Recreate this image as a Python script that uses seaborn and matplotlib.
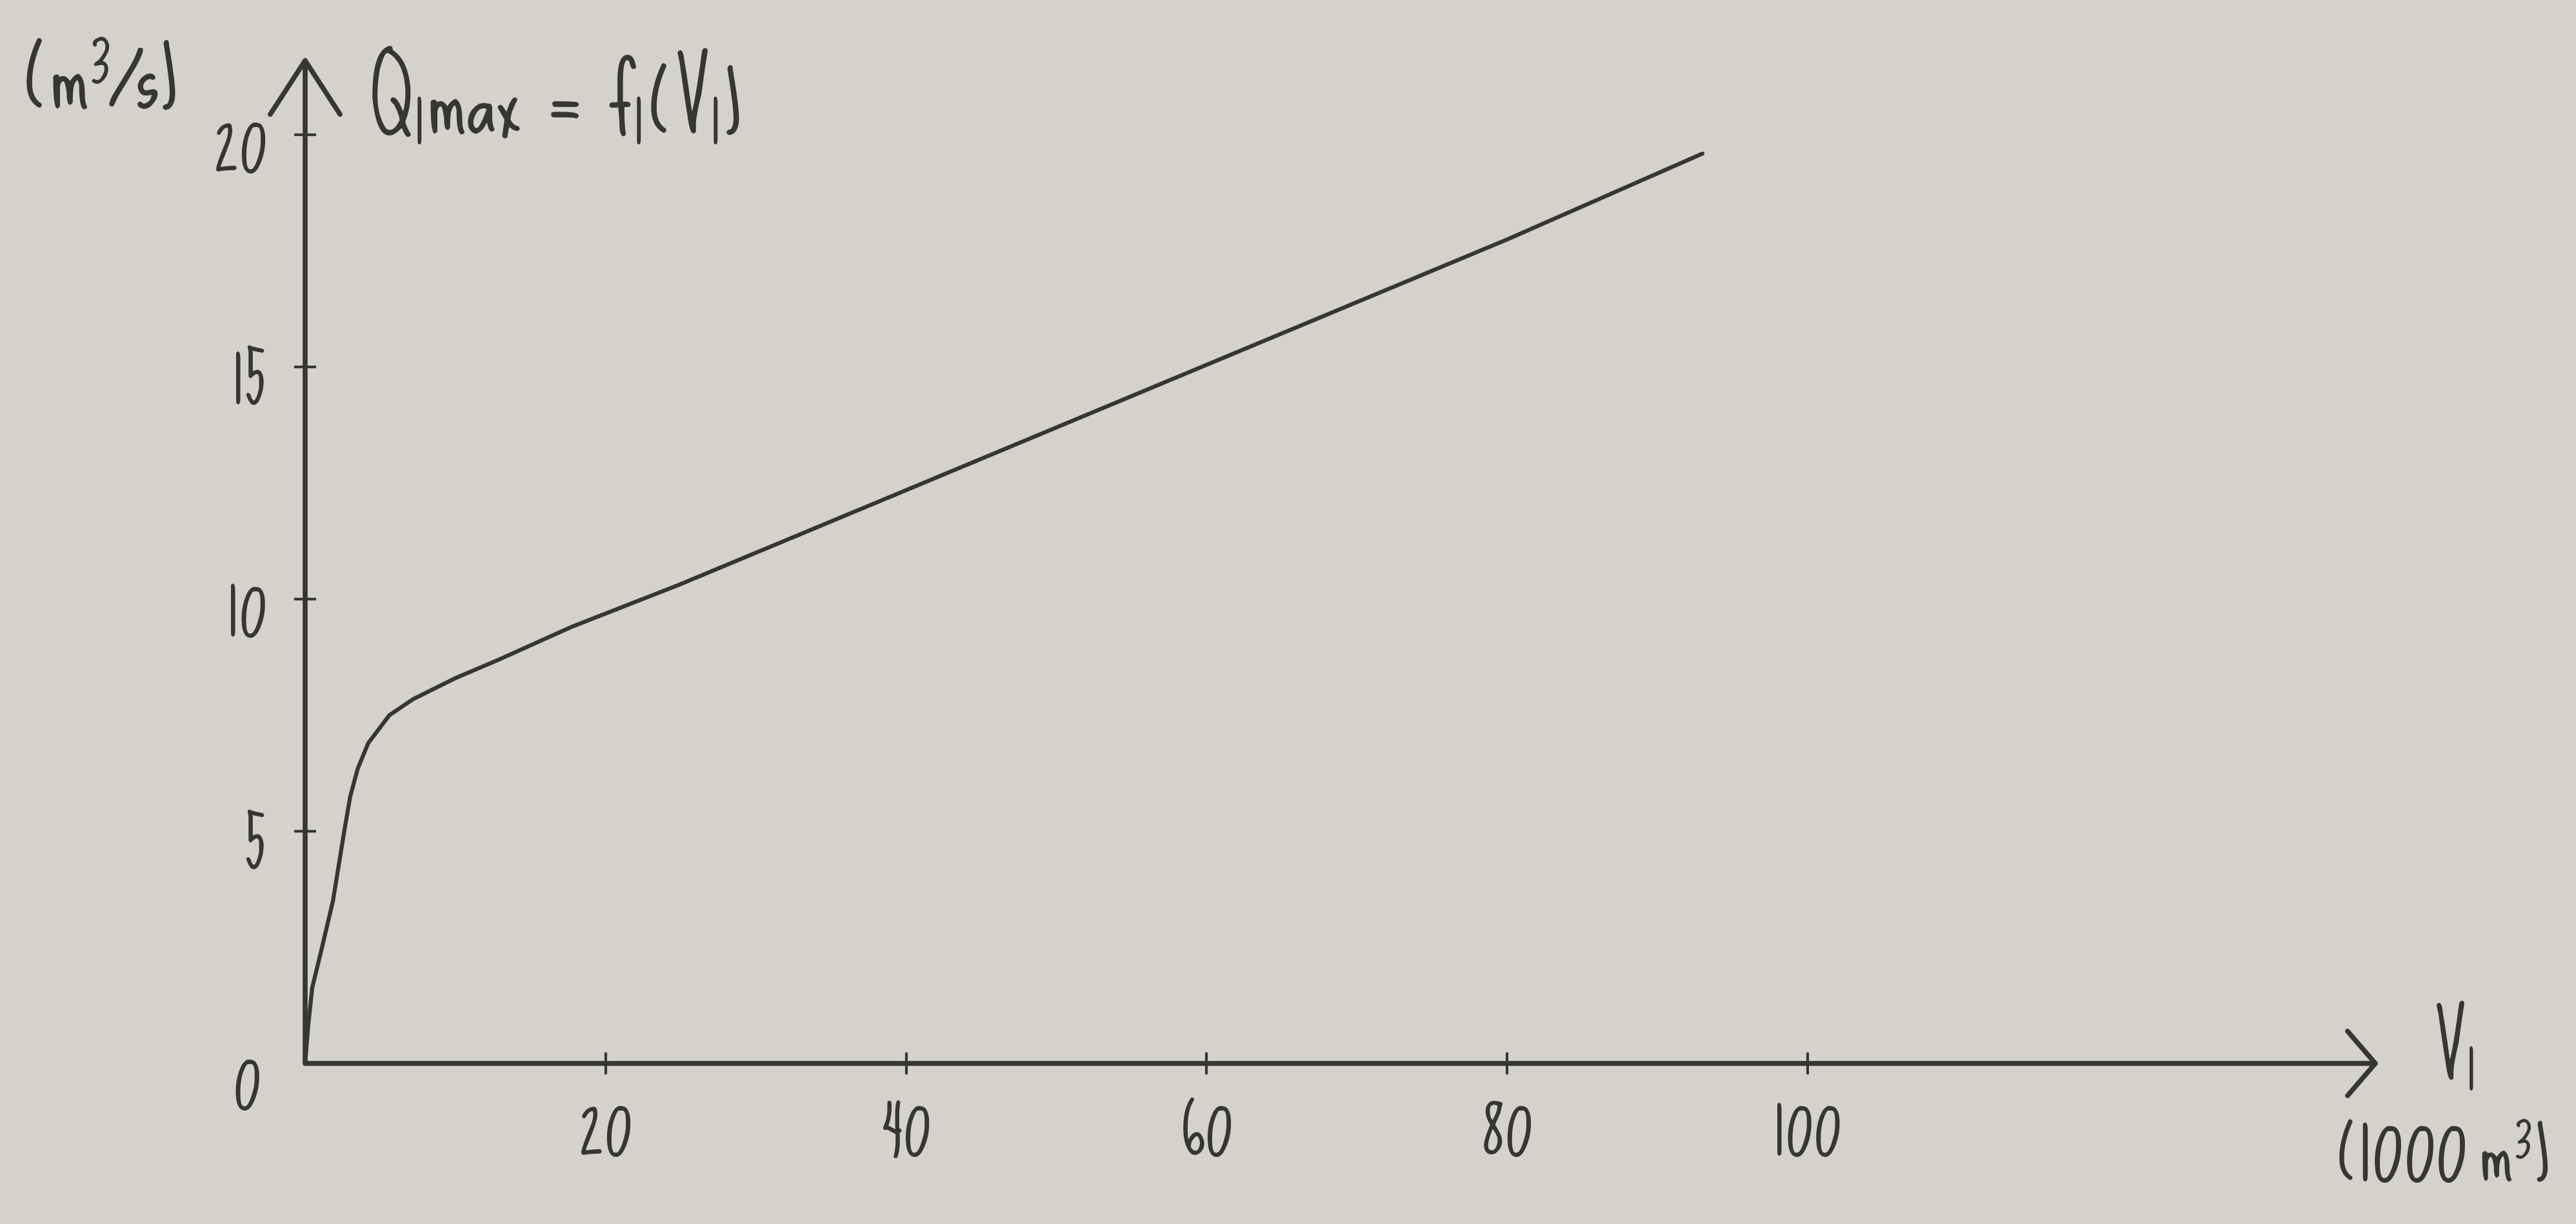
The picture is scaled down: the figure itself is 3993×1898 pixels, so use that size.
import numpy as np
import pandas as pd
import matplotlib
matplotlib.use("Agg")
import matplotlib.pyplot as plt
import seaborn as sns
from matplotlib import font_manager
from matplotlib.transforms import ScaledTranslation

# ---- data ----
volume_1000m3 = [0, 0.2, 0.47, 1.05, 1.85, 2.6, 3.0, 3.5, 4.2, 5.6, 7.2, 10.0, 12.9, 17.7, 24.8, 40, 60, 80, 93]
qmax_m3s      = [0, 0.8, 1.63, 2.4, 3.5, 5.0, 5.75, 6.35, 6.9, 7.5, 7.85, 8.3, 8.7, 9.4, 10.3, 12.35, 15.05, 17.75, 19.6]
x_ticks = [20, 40, 60, 80, 100]
y_ticks = [5, 10, 15, 20]

PAPER = "#d4d2cb"
INK = "#363634"

sns.set_theme(style="white")

# handwriting-like narrow font if available, else a condensed sans
names = set(f.name for f in font_manager.fontManager.ttflist)
HAND = None
for cand in ["Sue Ellen Francisco", "Loved by the King", "Amatic SC"]:
    if cand in names:
        HAND = cand
        break
if HAND:
    plt.rcParams['font.family'] = [HAND, "DejaVu Sans"]
    plt.rcParams['mathtext.fontset'] = 'custom'
    plt.rcParams['mathtext.rm'] = HAND
    plt.rcParams['mathtext.it'] = HAND
    plt.rcParams['mathtext.bf'] = HAND
    SCALE = 1.0
else:
    plt.rcParams['font.family'] = ["DejaVu Sans"]
    plt.rcParams['font.stretch'] = "condensed"
    SCALE = 0.8

fig = plt.figure(figsize=(39.93, 18.99), dpi=100, facecolor=PAPER)
ax = fig.add_axes([473/3993, 249/1899, 3214/3993, 1562/1899])
ax.set_facecolor(PAPER)

df = pd.DataFrame({"V": volume_1000m3, "Q": qmax_m3s})
sns.lineplot(data=df, x="V", y="Q", sort=False, estimator=None, color=INK, lw=4.5, ax=ax)
for ln in ax.lines:
    ln.set_clip_on(False)

ax.set_xlim(0, 138)
ax.set_ylim(0, 21.7)
for s in ax.spines.values():
    s.set_visible(False)
ax.set_xlabel("")
ax.set_ylabel("")

ax.annotate("", xy=(138, 0), xytext=(0, 0), xycoords="data",
            arrowprops=dict(arrowstyle="->,head_length=3.1,head_width=3.6", color=INK,
                            lw=5.5, shrinkA=0, shrinkB=0, mutation_scale=10),
            annotation_clip=False)
ax.annotate("", xy=(0, 21.7), xytext=(0, 0), xycoords="data",
            arrowprops=dict(arrowstyle="->,head_length=6.0,head_width=3.9", color=INK,
                            lw=5.5, shrinkA=0, shrinkB=0, mutation_scale=10),
            annotation_clip=False)

FS = 80 * SCALE
ax.set_xticks(x_ticks)
ax.set_xticklabels([str(t) for t in x_ticks])
ax.set_yticks(y_ticks)
ax.set_yticklabels([str(t) for t in y_ticks])
ax.tick_params(axis="both", direction="inout", length=25, width=3, color=INK,
               labelcolor=INK, labelsize=FS)
ax.tick_params(axis="x", pad=18)
ax.tick_params(axis="y", pad=30)
ax.xaxis.set_ticks_position("bottom")
ax.yaxis.set_ticks_position("left")
for lab in ax.get_yticklabels():
    lab.set_transform(lab.get_transform() + ScaledTranslation(0, -0.06, fig.dpi_scale_trans))

txt = dict(color=INK, clip_on=False)
ax.text(-3.9, -0.7, "0", ha="center", va="center", fontsize=FS, **txt)
fig.text(32/3993, 1 - 145/1899, r"$\mathrm{(m^3/s)}$", ha="left", va="center", fontsize=104 * SCALE, color=INK)
fig.text(571/3993, 1 - 185/1899, r"$\mathrm{Q_1max\;=\;f_1(V_1)}$", ha="left", va="center", fontsize=104 * SCALE, color=INK)
ax.text(143.0, -0.05, r"$\mathrm{V_1}$", ha="center", va="center", fontsize=96 * SCALE, **txt)
fig.text(3950/3993, 1 - 1812/1899, r"$\mathrm{(1000\ m^3)}$", ha="right", va="center", fontsize=90 * SCALE, color=INK)

fig.savefig("out.png", dpi=100, facecolor=PAPER)
